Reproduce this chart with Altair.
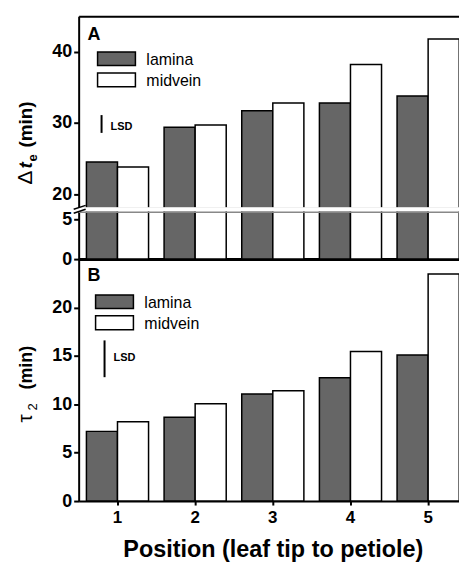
import altair as alt
import pandas as pd

FONT = "Liberation Sans"

positions = [1, 2, 3, 4, 5]
series = ["lamina", "midvein"]
dte_lamina = [24.5, 29.4, 31.7, 32.8, 33.8]
dte_midvein = [23.8, 29.7, 32.8, 38.2, 41.8]
tau_lamina = [7.2, 8.65, 11.05, 12.75, 15.1]
tau_midvein = [8.2, 10.05, 11.4, 15.45, 23.45]
lsd_A = [28.6, 31.1]
lsd_B = [12.8, 16.6]
ticks_A_upper = [20, 30, 40]
ticks_A_lower = [0, 5]
ticks_B = [0, 5, 10, 15, 20]

def long_df(lam, mid):
    rows = []
    for p, a, b in zip(positions, lam, mid):
        rows.append({"pos": p, "series": "lamina", "value": a})
        rows.append({"pos": p, "series": "midvein", "value": b})
    return pd.DataFrame(rows)

dfA = long_df(dte_lamina, dte_midvein)
dfB = long_df(tau_lamina, tau_midvein)
one = pd.DataFrame({"k": [0]})

LEFT, TOP = 78, 14
W = 390
H_UP, H_LOW, H_B = 193, 51, 243

xscale = alt.Scale(paddingInner=0.2, paddingOuter=0.1)
color = alt.Color("series:N", scale=alt.Scale(domain=series, range=["#666666", "#ffffff"]), legend=None)
xoff = alt.XOffset("series:N", scale=alt.Scale(domain=series, paddingInner=0, paddingOuter=0))

yaxis_common = dict(domainColor="black", domainWidth=2, tickColor="black", tickWidth=2, tickSize=5,
                    labelFont=FONT, labelFontWeight="bold", labelFontSize=18, labelColor="black",
                    labelPadding=2, grid=False, title=None)


def bars(df, domain, ticks, xaxis, height):
    return alt.Chart(df).mark_bar(clip=True, stroke="black", strokeWidth=1.5).encode(
        x=alt.X("pos:O", scale=xscale, axis=xaxis),
        xOffset=xoff,
        y=alt.Y("value:Q", scale=alt.Scale(domain=domain, nice=False, zero=False),
                axis=alt.Axis(values=ticks, **yaxis_common)),
        color=color,
    ).properties(width=W, height=height)


def label(text, x, y, size, weight="bold", style="normal", angle=0, align="left", baseline="alphabetic"):
    return alt.Chart(one).mark_text(text=text, font=FONT, fontSize=size, fontWeight=weight, fontStyle=style,
                                    angle=angle, align=align, baseline=baseline, color="black").encode(
        x=alt.value(x), y=alt.value(y))


def rule(x, x2, y, y2, color="black", width=2):
    return alt.Chart(one).mark_rule(color=color, strokeWidth=width).encode(
        x=alt.value(x), x2=alt.value(x2), y=alt.value(y), y2=alt.value(y2))


def rect(x, x2, y, y2, fill, stroke="black"):
    return alt.Chart(one).mark_rect(fill=fill, stroke=stroke, strokeWidth=1.5 if stroke else 0).encode(
        x=alt.value(x), x2=alt.value(x2), y=alt.value(y), y2=alt.value(y2))


def legend(dx=0):
    return [rect(19 + dx, 57 + dx, 36, 49.5, "#666666"), rect(19 + dx, 57 + dx, 57, 71, "#ffffff"),
            label("lamina", 68 + dx, 49, 16, weight="normal"), label("midvein", 68 + dx, 70, 16, weight="normal")]


def lsd(vals, xpix, domain, tx, ty):
    r = alt.Chart(pd.DataFrame({"lo": [vals[0]], "hi": [vals[1]]})).mark_rule(color="black", strokeWidth=2).encode(
        x=alt.value(xpix),
        y=alt.Y("lo:Q", scale=alt.Scale(domain=domain, nice=False, zero=False)),
        y2="hi:Q")
    return [r, label("LSD", tx, ty, 11)]

top_axis = alt.Axis(orient="top", labels=False, ticks=False, domainColor="black", domainWidth=2, title=None)

# Panel A upper
A_up = alt.layer(
    bars(dfA, [18, 45], ticks_A_upper, top_axis, H_UP),
    rule(-LEFT, -LEFT + 1, -TOP, -TOP + 1, color="white", width=0.5),  # page anchor (top-left corner)
    *lsd(lsd_A, 23, [18, 45], 32, 114),
    rule(0, W, H_UP, H_UP, color="#888888", width=1.5),
    label("A", 9, 24, 18),
    *legend(),
    label("\u0394", -47, 169, 21, weight="normal", angle=270),
    label("t", -47, 153, 19, style="italic", angle=270),
    label("e", -42, 146, 13, angle=270),
    label("(min)", -47, 132, 19, angle=270),
).properties(width=W, height=H_UP)

# Panel A lower (top 4 px left blank as the axis break)
low_axis = alt.Axis(orient="bottom", labels=False, ticks=False, domainColor="black", domainWidth=3, title=None)
A_low = alt.layer(
    bars(dfA, [0, 6.375], ticks_A_lower, low_axis, H_LOW),
    rect(-3, W, -1, 3.2, "#ffffff", stroke=None),
    rule(0, W, 4, 4, color="#888888", width=1.5),
    rule(-5, 7, 1, -3, width=1.5),
    rule(-5, 7, 5, 1, width=1.5),
).properties(width=W, height=H_LOW)

# Panel B
b_axis = alt.Axis(orient="bottom", domainColor="black", domainWidth=2, tickColor="black", tickWidth=2,
                  tickSize=4, labelFont=FONT, labelFontWeight="bold", labelFontSize=17, labelColor="black",
                  labelPadding=5, labelAngle=0, title="Position (leaf tip to petiole)", titleFont=FONT,
                  titleFontSize=23.5, titleFontWeight="bold", titleColor="black", titlePadding=12)
B = alt.layer(
    bars(dfB, [0, 25], ticks_B, b_axis, H_B),
    rule(-LEFT, -LEFT + 1, 307, 308, color="white", width=0.5),  # page anchor (bottom)
    *lsd(lsd_B, 26, [0, 25], 35, 102),
    label("B", 9, 22, 18),
    *legend(-2),
    label("\u03c4", -47, 164, 21, weight="normal", angle=270),
    label("2", -42, 152, 13, weight="normal", angle=270),
    label("(min)", -47, 131, 18, angle=270),
).properties(width=W, height=H_B)

chart = alt.vconcat(A_up, A_low, B, spacing=0, bounds="flush").properties(
    padding={"left": 0, "top": 0, "right": -9, "bottom": 0},
).configure_view(stroke=None)

chart.save("out.html", embed_options={"renderer": "svg", "actions": False})
